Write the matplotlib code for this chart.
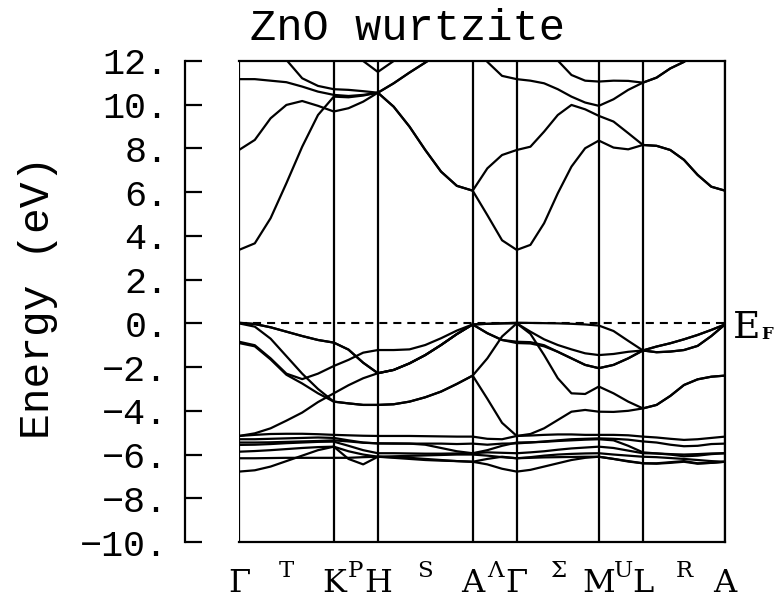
import numpy as np
import matplotlib
matplotlib.use("Agg")
import matplotlib.pyplot as plt
from matplotlib import transforms

plt.rcParams['lines.scale_dashes'] = False

# ---------------- data ----------------
title = "ZnO wurtzite"
ylabel = "Energy (eV)"
kpoint_labels = ["\u0393", "K", "H", "A", "\u0393", "M", "L", "A"]
kpoint_pos = [0.0, 1.0, 1.465, 2.465, 2.930, 3.796, 4.261, 5.127]
line_labels = ["T", "P", "S", "\u039b", "\u03a3", "U", "R"]
subdiv = [6, 3, 6, 3, 6, 3, 6]
ytick_vals = [12, 10, 8, 6, 4, 2, 0, -2, -4, -6, -8, -10]
ytick_text = ["12.", "10.", "8.", "6.", "4.", "2.", "0.",
              "\u22122.", "\u22124.", "\u22126.", "\u22128.", "\u221210."]

# band energies (eV) at the sample points along G-K | K-H | H-A | A-G | G-M | M-L | L-A
cb1 = [3.36, 3.66, 4.81, 6.41, 8.08, 9.53, 10.37,
       10.34, 10.42, 10.55,
       9.91, 9.0, 7.93, 6.94, 6.29, 6.07,
       4.95, 3.8, 3.36,
       3.59, 4.58, 5.95, 7.17, 8.01, 8.36,
       8.04, 7.96, 8.16,
       8.12, 7.93, 7.48, 6.79, 6.25, 6.07]
cb2 = [7.93, 8.39, 9.38, 9.99, 10.17, 9.95, 9.69,
       9.84, 10.14, 10.55,
       9.91, 9.0, 7.93, 6.94, 6.29, 6.07,
       7.09, 7.7, 7.93,
       8.08, 8.77, 9.53, 9.99, 9.79, 9.49,
       9.23, 8.7, 8.16,
       8.12, 7.93, 7.48, 6.79, 6.25, 6.07]
cb3 = [11.17, 11.17, 11.1, 11.03, 10.83, 10.6, 10.45,
       10.4, 10.45, 10.55,
       10.98, 11.47, 11.93, 12.4, 12.7, 12.8,
       11.96, 11.32, 11.17,
       11.1, 10.98, 10.71, 10.37, 10.1, 9.95,
       10.25, 10.68, 11.01,
       11.24, 11.66, 11.96, 12.4, 12.7, 12.8]
cb4 = [13.6, 13.2, 12.7, 12.05, 11.21, 10.86, 10.71,
       10.68, 10.62, 10.55,
       10.98, 11.47, 11.93, 12.4, 12.7, 12.8,
       13.0, 13.3, 13.6,
       13.3, 12.8, 12.02, 11.36, 11.1, 11.06,
       11.1, 11.09, 11.01,
       11.24, 11.66, 11.96, 12.4, 12.7, 12.8]
cb5 = [14.0, 14.0, 14.0, 14.0, 14.0, 14.0, 14.0,
       13.2, 12.0, 11.5,
       12.0, 12.7, 13.3, 13.8, 14.0, 14.0,
       14.0, 14.0, 14.0,
       14.0, 14.0, 14.0, 14.0, 14.0, 14.0,
       14.0, 14.0, 14.0,
       14.0, 14.0, 14.0, 14.0, 14.0, 14.0]

vb1 = [0.03, -0.03, -0.18, -0.38, -0.58, -0.76, -0.88,
       -1.2, -1.8, -2.28,
       -2.13, -1.83, -1.45, -0.99, -0.49, -0.05,
       -0.02, 0.0, 0.03,
       0.02, 0.01, 0.0, -0.02, -0.05, -0.1,
       -0.35, -0.8, -1.24,
       -1.06, -0.91, -0.73, -0.53, -0.3, -0.05]
vb2 = [0.0, -0.15, -0.7, -1.5, -2.3, -3.0, -3.58,
       -3.66, -3.73, -3.73,
       -3.7, -3.58, -3.38, -3.12, -2.77, -2.39,
       -1.6, -0.6, 0.0,
       -0.48, -1.45, -2.51, -3.2, -3.23, -2.89,
       -3.2, -3.58, -3.89,
       -3.73, -3.32, -2.82, -2.56, -2.44, -2.39]
vb3 = [-0.84, -1.0, -1.6, -2.3, -2.55, -2.3, -1.95,
       -1.67, -1.34, -1.22,
       -1.22, -1.19, -0.99, -0.68, -0.33, -0.05,
       -0.45, -0.76, -0.84,
       -0.86, -1.0, -1.3, -1.6, -1.9, -2.05,
       -1.9, -1.6, -1.24,
       -1.32, -1.29, -1.22, -1.03, -0.58, -0.05]
vb4 = [-0.9, -1.05, -1.65, -2.35, -2.75, -3.2, -3.58,
       -3.66, -3.73, -3.73,
       -3.7, -3.58, -3.38, -3.12, -2.77, -2.39,
       -3.45, -4.55, -5.15,
       -5.06, -4.8, -4.42, -4.04, -3.96, -4.04,
       -4.05, -4.0, -3.89,
       -3.73, -3.32, -2.82, -2.56, -2.44, -2.39]
vb5 = [0.02, -0.03, -0.18, -0.38, -0.58, -0.76, -0.88,
       -1.2, -1.8, -2.28,
       -2.13, -1.83, -1.45, -0.99, -0.49, -0.05,
       -0.02, 0.0, 0.0,
       -0.38, -0.73, -0.99, -1.19, -1.37, -1.45,
       -1.4, -1.3, -1.24,
       -1.06, -0.91, -0.73, -0.53, -0.3, -0.05]
vb6 = [-5.15, -5.03, -4.8, -4.45, -4.08, -3.6, -3.2,
       -2.83, -2.51, -2.28,
       -2.13, -1.83, -1.45, -0.99, -0.49, -0.05,
       -0.45, -0.76, -0.9,
       -0.92, -1.05, -1.3, -1.6, -1.9, -2.05,
       -1.9, -1.6, -1.24,
       -1.32, -1.29, -1.22, -1.03, -0.58, -0.05]

db1 = [-5.15, -5.1, -5.06, -5.05, -5.05, -5.07, -5.1,
       -5.12, -5.14, -5.15,
       -5.15, -5.15, -5.16, -5.17, -5.18, -5.18,
       -5.28, -5.3, -5.15,
       -5.13, -5.1, -5.08, -5.08, -5.1, -5.1,
       -5.1, -5.12, -5.18,
       -5.22, -5.28, -5.33, -5.3, -5.24, -5.18]
db2 = [-5.3, -5.3, -5.28, -5.26, -5.24, -5.22, -5.24,
       -5.35, -5.45, -5.49,
       -5.5, -5.5, -5.55, -5.7, -5.85, -5.94,
       -5.8, -5.6, -5.45,
       -5.44, -5.42, -5.38, -5.35, -5.32, -5.3,
       -5.35, -5.6, -5.9,
       -5.95, -6.0, -6.08, -6.05, -5.98, -5.94]
db3 = [-5.45, -5.45, -5.44, -5.42, -5.4, -5.38, -5.35,
       -5.4, -5.46, -5.49,
       -5.49, -5.5, -5.5, -5.5, -5.52, -5.5,
       -5.55, -5.5, -5.49,
       -5.45, -5.4, -5.35, -5.3, -5.28, -5.26,
       -5.28, -5.32, -5.4,
       -5.45, -5.55, -5.62, -5.6, -5.52, -5.5]
db4 = [-5.56, -5.55, -5.52, -5.48, -5.45, -5.42, -5.41,
       -5.6, -5.8, -5.94,
       -5.94, -5.95, -5.96, -5.96, -5.95, -5.94,
       -5.9, -5.92, -5.94,
       -5.9, -5.85, -5.78, -5.72, -5.68, -5.64,
       -5.7, -5.82, -5.94,
       -5.95, -5.98, -6.0, -5.98, -5.95, -5.94]
db5 = [-5.87, -5.84, -5.8, -5.75, -5.7, -5.66, -5.64,
       -5.85, -6.0, -6.1,
       -6.12, -6.15, -6.2, -6.25, -6.3, -6.33,
       -6.2, -6.1, -6.17,
       -6.12, -6.05, -6.0, -5.97, -5.95, -5.94,
       -6.0, -6.05, -6.1,
       -6.12, -6.16, -6.2, -6.25, -6.3, -6.33]
db6 = [-6.17, -6.17, -6.16, -6.15, -6.15, -6.15, -6.15,
       -6.15, -6.12, -6.1,
       -6.08, -6.06, -6.04, -6.02, -6.0, -6.0,
       -6.05, -6.12, -6.17,
       -6.15, -6.13, -6.12, -6.11, -6.1, -6.1,
       -6.2, -6.3, -6.4,
       -6.4, -6.35, -6.3, -6.4, -6.38, -6.33]
db7 = [-6.78, -6.72, -6.55, -6.3, -6.05, -5.8, -5.64,
       -6.2, -6.45, -6.1,
       -6.15, -6.2, -6.25, -6.28, -6.3, -6.33,
       -6.45, -6.65, -6.78,
       -6.7, -6.55, -6.4, -6.25, -6.15, -6.1,
       -6.2, -6.32, -6.4,
       -6.42, -6.38, -6.33, -6.42, -6.38, -6.33]

bands = [cb1, cb2, cb3, cb4, cb5, vb1, vb2, vb3, vb4, vb5, vb6,
         db1, db2, db3, db4, db5, db6, db7]

# ---------------- k grid ----------------
kgrid = [kpoint_pos[0]]
for i, n in enumerate(subdiv):
    seg = np.linspace(kpoint_pos[i], kpoint_pos[i + 1], n + 1)[1:]
    kgrid.extend(seg.tolist())
kgrid = np.array(kgrid)

# ---------------- figure ----------------
W, H = 778, 603
fig = plt.figure(figsize=(W / 100, H / 100), dpi=100)
L, R, T, B = 239, 725, 61, 542
ax = fig.add_axes([L / W, 1 - B / H, (R - L) / W, (B - T) / H])

lw = 1.6
mono = "Liberation Mono"
serif = "DejaVu Serif"

ax.spines["left"].set_position(("outward", 54 * 0.72))
for s in ax.spines.values():
    s.set_linewidth(lw)

ax.set_xlim(kpoint_pos[0], kpoint_pos[-1])
ax.set_ylim(-10, 12)

for b in bands:
    ax.plot(kgrid, b, color="black", lw=lw, solid_joinstyle="round")
for x in kpoint_pos:
    ax.axvline(x, color="black", lw=lw)
ax.axhline(0, color="black", lw=1.5, dashes=(5.8, 4.3))

ax.set_xticks([])
ax.set_yticks(ytick_vals)
ax.set_yticklabels(ytick_text)
ax.tick_params(axis="y", direction="in", length=17 * 0.72, width=lw,
               pad=12, right=False, labelsize=26.5)
for lab in ax.get_yticklabels():
    lab.set_family(mono)

fig.text(250 / W, 1 - 39.5 / H, title, family=mono, fontsize=31.5,
         ha="left", va="baseline")
fig.text(38 / W, 1 - 297 / H, ylabel, family=mono, fontsize=31,
         rotation=90, ha="center", va="center")

trans = transforms.blended_transform_factory(ax.transData, fig.transFigure)
for lab, x in zip(kpoint_labels, kpoint_pos):
    ax.text(x, 1 - 592 / H, lab, transform=trans, family=serif, fontsize=23,
            ha="center", va="baseline", clip_on=False)
sup_shift = [0, 0, 0, 0.01, 0, 0.025, 0]
for i, lab in enumerate(line_labels):
    xm = 0.5 * (kpoint_pos[i] + kpoint_pos[i + 1]) + sup_shift[i]
    ax.text(xm, 1 - 577 / H, lab, transform=trans, family=serif, fontsize=16.5,
            ha="center", va="baseline", clip_on=False)

fig.text(733 / W, 1 - 338 / H, "E", family=serif, fontsize=27,
         ha="left", va="baseline")
fig.text(761 / W, 1 - 339 / H, "F", family=serif, fontsize=12,
         fontweight="bold", ha="left", va="baseline")

fig.savefig("out.png", dpi=100)
